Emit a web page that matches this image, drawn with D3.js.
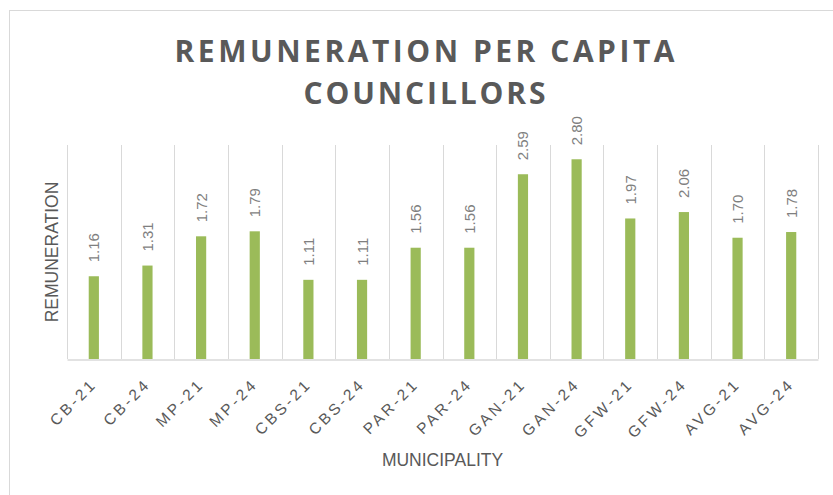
<!DOCTYPE html>
<html>
<head>
<meta charset="utf-8">
<script src="https://cdn.jsdelivr.net/npm/d3@7"></script>
<style>
    body { margin: 0; background: #fff; }
    svg { display: block; }
</style>
</head>
<body>
<svg id="chart" width="833" height="495"></svg>
<script>
// data
const municipalities = ["CB-21", "CB-24", "MP-21", "MP-24", "CBS-21", "CBS-24", "PAR-21",
    "PAR-24", "GAN-21", "GAN-24", "GFW-21", "GFW-24", "AVG-21", "AVG-24"];
const remuneration = [1.16, 1.31, 1.72, 1.79, 1.11, 1.11, 1.56,
    1.56, 2.59, 2.80, 1.97, 2.06, 1.70, 1.78];
const titleLines = ["REMUNERATION PER CAPITA", "COUNCILLORS"];
const yDomain = [0, 3];

let rows = municipalities.map((m, i) => ({name: m, value: remuneration[i]}));

let plot = {"left": 67, "right": 818, "top": 145, "bottom": 359};

let svg = d3.select("#chart");

// chart area border (runs off the right and bottom)
svg.append("rect")
    .attr("x", 9.5)
    .attr("y", 10.5)
    .attr("width", 900)
    .attr("height", 600)
    .attr("fill", "#fff")
    .attr("stroke", "#d9d9d9");

let catScale = d3.scaleBand()
    .domain(municipalities)
    .range([plot.left, plot.right])
    .padding(0);

let xScale = d3.scaleBand()
    .domain(municipalities)
    .range([plot.left, plot.right])
    .paddingInner(0.81)
    .paddingOuter(0.405);

let yScale = d3.scaleLinear()
    .domain(yDomain)
    .range([plot.bottom, plot.top]);

// vertical gridlines between categories
let edges = municipalities.map(m => catScale(m)).concat([plot.right]);
svg.append("g")
    .selectAll("line")
    .data(edges)
    .enter().append("line")
    .attr("x1", d => Math.round(d) + 0.5)
    .attr("x2", d => Math.round(d) + 0.5)
    .attr("y1", yScale(yDomain[1]))
    .attr("y2", yScale(0))
    .attr("stroke", "#d9d9d9")
    .attr("stroke-width", 1);

// bars
svg.append("g")
    .selectAll("rect")
    .data(rows)
    .enter().append("rect")
    .attr("x", d => xScale(d.name))
    .attr("y", d => yScale(d.value))
    .attr("width", xScale.bandwidth())
    .attr("height", d => yScale(0) - yScale(d.value))
    .attr("fill", "#9bbb59");

// axis line
let xAxis = d3.axisBottom(catScale).tickSize(0).tickFormat("");
let axisG = svg.append("g")
    .attr("transform", "translate(0," + (plot.bottom + 0.5) + ")")
    .call(xAxis);
axisG.select(".domain").attr("stroke", "#d9d9d9").attr("stroke-width", 1.5);

// rotated value labels
svg.append("g")
    .selectAll("text")
    .data(rows)
    .enter().append("text")
    .attr("transform", d => "translate(" + (xScale(d.name) + xScale.bandwidth() / 2 + 5.5) + "," +
        (yScale(d.value) - 14) + ") rotate(-90)")
    .attr("font-family", "Liberation Sans, Arial, sans-serif")
    .attr("font-size", 15)
    .attr("fill", "#7f7f7f")
    .text(d => d.value.toFixed(2));

// category labels at -45
svg.append("g")
    .selectAll("text")
    .data(municipalities)
    .enter().append("text")
    .attr("transform", d => "translate(" + (catScale(d) + catScale.bandwidth() / 2 + 4) + ",385) rotate(-45)")
    .attr("text-anchor", "end")
    .attr("font-family", "Liberation Sans, Arial, sans-serif")
    .attr("font-size", 15.5)
    .attr("letter-spacing", 3)
    .attr("fill", "#595959")
    .text(d => d);

// axis titles
svg.append("text")
    .attr("x", (plot.left + plot.right) / 2)
    .attr("y", 466)
    .attr("text-anchor", "middle")
    .attr("font-family", "Liberation Sans, Arial, sans-serif")
    .attr("font-size", 17.5)
    .attr("fill", "#595959")
    .text("MUNICIPALITY");

svg.append("text")
    .attr("transform", "translate(57.5," + (plot.top + plot.bottom) / 2 + ") rotate(-90)")
    .attr("text-anchor", "middle")
    .attr("font-family", "Liberation Sans, Arial, sans-serif")
    .attr("font-size", 17.5)
    .attr("fill", "#595959")
    .text("REMUNERATION");

// title
let titleWidths = [500, 242];
let titleBase = [62, 104];
svg.append("g")
    .selectAll("text")
    .data(titleLines)
    .enter().append("text")
    .attr("x", (d, i) => 424.5 - titleWidths[i] / 2)
    .attr("y", (d, i) => titleBase[i])
    .attr("textLength", (d, i) => titleWidths[i])
    .attr("lengthAdjust", "spacing")
    .attr("font-family", "Open Sans, sans-serif")
    .attr("font-weight", "bold")
    .attr("font-size", 30)
    .attr("fill", "#595959")
    .text(d => d);
</script>
</body>
</html>
